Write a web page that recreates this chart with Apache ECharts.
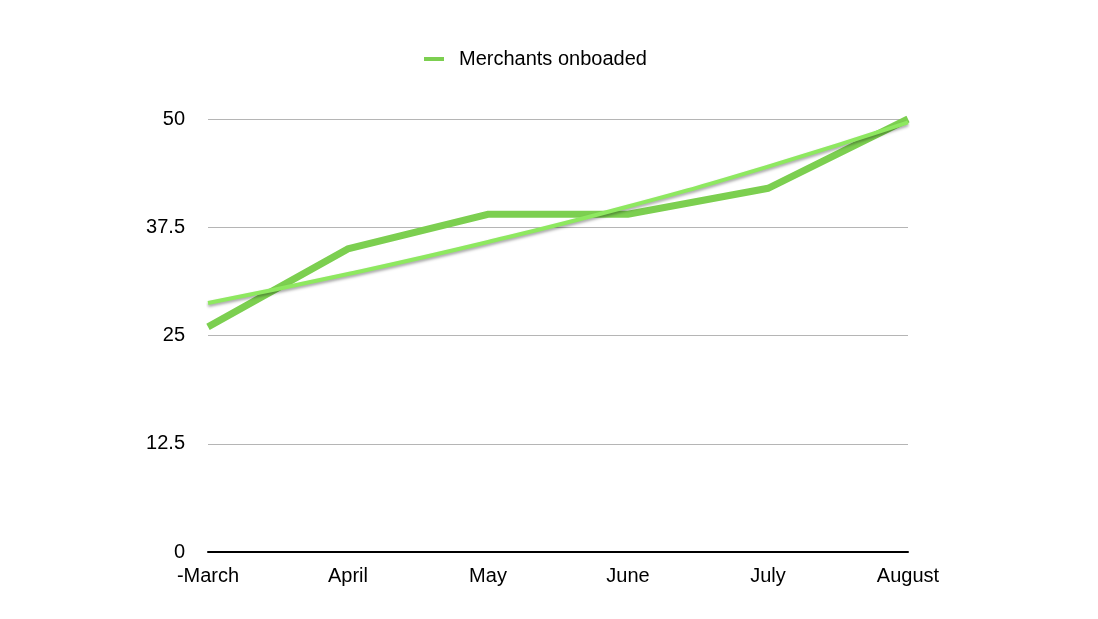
<!DOCTYPE html>
<html><head><meta charset="utf-8">
<script src="https://cdn.jsdelivr.net/npm/echarts@6/dist/echarts.min.js"></script>
<style>html,body{margin:0;padding:0;background:#fff}#c{width:1098px;height:619px}</style>
</head><body><div id="c"></div>
<script>
var categories = ['-March', 'April', 'May', 'June', 'July', 'August'];
var merchants = [26, 35, 39, 39, 42, 50];
var trend = [28.75, 32.1, 35.8, 39.9, 44.5, 49.6];
var yTicks = [0, 12.5, 25, 37.5, 50];

var chart = echarts.init(document.getElementById('c'));
chart.setOption({
  animation: false,
  textStyle: {fontFamily: 'Liberation Sans, Arial, sans-serif'},
  legend: {
    top: 44, left: 419,
    data: [{name: 'Merchants onboaded'}],
    itemWidth: 20, itemHeight: 4, itemGap: 10,
    icon: 'rect',
    textStyle: {fontSize: 20, color: '#000', padding: [0,0,0,10]}
  },
  grid: {left: 208, right: 190, top: 119, bottom: 67},
  xAxis: {
    type: 'category', data: categories, boundaryGap: false,
    axisLine: {lineStyle: {color: '#000', width: 2}},
    axisTick: {show: false},
    axisLabel: {color: '#000', fontSize: 20, margin: 14},
    splitLine: {show: false}
  },
  yAxis: {
    type: 'value', min: 0, max: 50, interval: 12.5,
    axisLine: {show: false}, axisTick: {show: false},
    axisLabel: {color: '#000', fontSize: 20, margin: 23,
      formatter: function(v){ return yTicks.indexOf(v) >= 0 ? String(v) : ''; }},
    splitLine: {lineStyle: {color: '#b5b5b5', width: 1}}
  },
  series: [
    {
      name: 'Merchants onboaded', type: 'line', data: merchants,
      symbol: 'none', color: '#7ccf50',
      lineStyle: {width: 7, color: '#7ccf50', join: 'miter'}
    },
    {
      name: 'Trend', type: 'line', data: trend, smooth: true,
      symbol: 'none', color: '#8ee860',
      lineStyle: {width: 4, color: '#8ee860', shadowColor: 'rgba(0,0,0,0.35)', shadowBlur: 3, shadowOffsetY: 2},
      z: 3
    }
  ]
});
</script></body></html>
